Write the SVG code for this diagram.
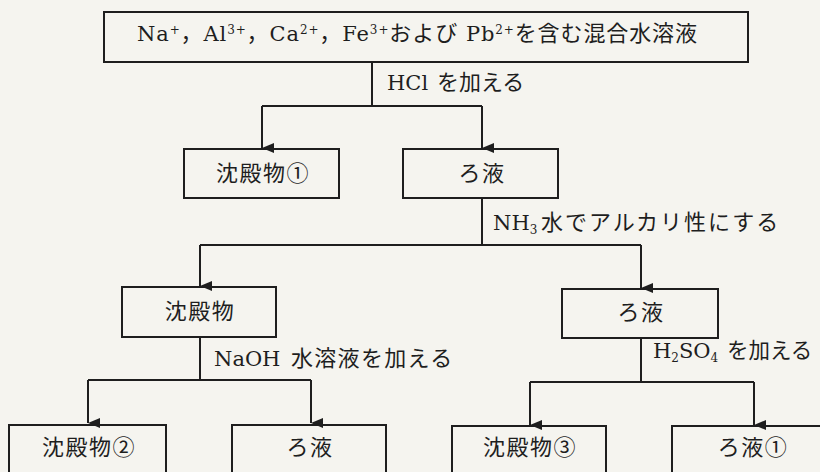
<svg xmlns="http://www.w3.org/2000/svg" width="820" height="472" viewBox="0 0 820 472">
<defs>
<style>
.bx{fill:none;stroke:#1e1e1e;stroke-width:2}
.ln{fill:none;stroke:#1e1e1e;stroke-width:2}
.t{font-family:"DejaVu Serif","Noto Sans CJK JP",serif;font-size:22px;fill:#1e1e1e}
.la{font-size:21px}
.c{text-anchor:middle;letter-spacing:1.5px}
.sp{font-size:12px}
</style>
<marker id="ah" viewBox="0 0 10 12" refX="5" refY="12" markerWidth="10" markerHeight="12" markerUnits="userSpaceOnUse" orient="auto-start-reverse">
<path d="M0 0 L10 0 L5 12 Z" fill="#1e1e1e"/>
</marker>
</defs>
<rect width="820" height="472" fill="#f5f4ef"/>
<g id="connectors">
<path class="ln" d="M372 62 V106 M262 106 H482"/>
<path class="ln" d="M262 106 V148" marker-end="url(#ah)"/>
<path class="ln" d="M482 106 V148" marker-end="url(#ah)"/>
<path class="ln" d="M482 198 V245 M200 245 H641"/>
<path class="ln" d="M200 245 V286" marker-end="url(#ah)"/>
<path class="ln" d="M641 245 V288" marker-end="url(#ah)"/>
<path class="ln" d="M200 337 V380 M88 380 H311"/>
<path class="ln" d="M88 380 V423" marker-end="url(#ah)"/>
<path class="ln" d="M311 380 V423" marker-end="url(#ah)"/>
<path class="ln" d="M641 338 V382 M530 382 H754"/>
<path class="ln" d="M530 382 V425" marker-end="url(#ah)"/>
<path class="ln" d="M754 382 V425" marker-end="url(#ah)"/>
<text class="t" y="90"><tspan class="la" x="387">HCl</tspan><tspan x="437">を加える</tspan></text>
<text class="t" y="230"><tspan class="la" x="493">NH</tspan><tspan class="sp" dy="4">3</tspan><tspan dy="-4" x="541" letter-spacing="2">水でアルカリ性にする</tspan></text>
<text class="t" y="366"><tspan class="la" x="214">NaOH</tspan><tspan x="291" letter-spacing="1.3">水溶液を加える</tspan></text>
<text class="t" y="358"><tspan class="la" x="653">H</tspan><tspan class="sp" dy="4">2</tspan><tspan class="la" dy="-4">SO</tspan><tspan class="sp" dy="4">4</tspan><tspan dy="-4" x="727" font-size="21.5">を加える</tspan></text>
</g>
<g id="start">
<rect class="bx" x="104" y="12" width="644" height="50"/>
<text class="t" x="137" y="41" textLength="560" lengthAdjust="spacing"><tspan class="la">Na</tspan><tspan class="sp" dy="-7">+</tspan><tspan dy="7">，</tspan><tspan class="la">Al</tspan><tspan class="sp" dy="-7">3+</tspan><tspan dy="7">，</tspan><tspan class="la">Ca</tspan><tspan class="sp" dy="-7">2+</tspan><tspan dy="7">，</tspan><tspan class="la">Fe</tspan><tspan class="sp" dy="-7">3+</tspan><tspan dy="7">および </tspan><tspan class="la">Pb</tspan><tspan class="sp" dy="-7">2+</tspan><tspan dy="7">を含む混合水溶液</tspan></text>
</g>
<g id="ppt1">
<rect class="bx" x="184" y="149" width="155" height="49"/>
<text class="t c" x="263" y="181">沈殿物①</text>
</g>
<g id="filt1">
<rect class="bx" x="403" y="149" width="155" height="49"/>
<text class="t c" x="482" y="181">ろ液</text>
</g>
<g id="ppt">
<rect class="bx" x="122" y="287" width="154" height="50"/>
<text class="t c" x="200" y="319">沈殿物</text>
</g>
<g id="filt2">
<rect class="bx" x="562" y="289" width="156" height="49"/>
<text class="t c" x="641" y="320">ろ液</text>
</g>
<g id="ppt2">
<rect class="bx" x="9" y="425" width="157" height="60"/>
<text class="t c" x="89" y="455">沈殿物②</text>
</g>
<g id="filt3">
<rect class="bx" x="232" y="425" width="154" height="60"/>
<text class="t c" x="310" y="455">ろ液</text>
</g>
<g id="ppt3">
<rect class="bx" x="452" y="426" width="154" height="60"/>
<text class="t c" x="530" y="455">沈殿物③</text>
</g>
<g id="filtrate1">
<rect class="bx" x="672" y="426" width="160" height="60"/>
<text class="t c" x="753" y="455">ろ液①</text>
</g>
</svg>
